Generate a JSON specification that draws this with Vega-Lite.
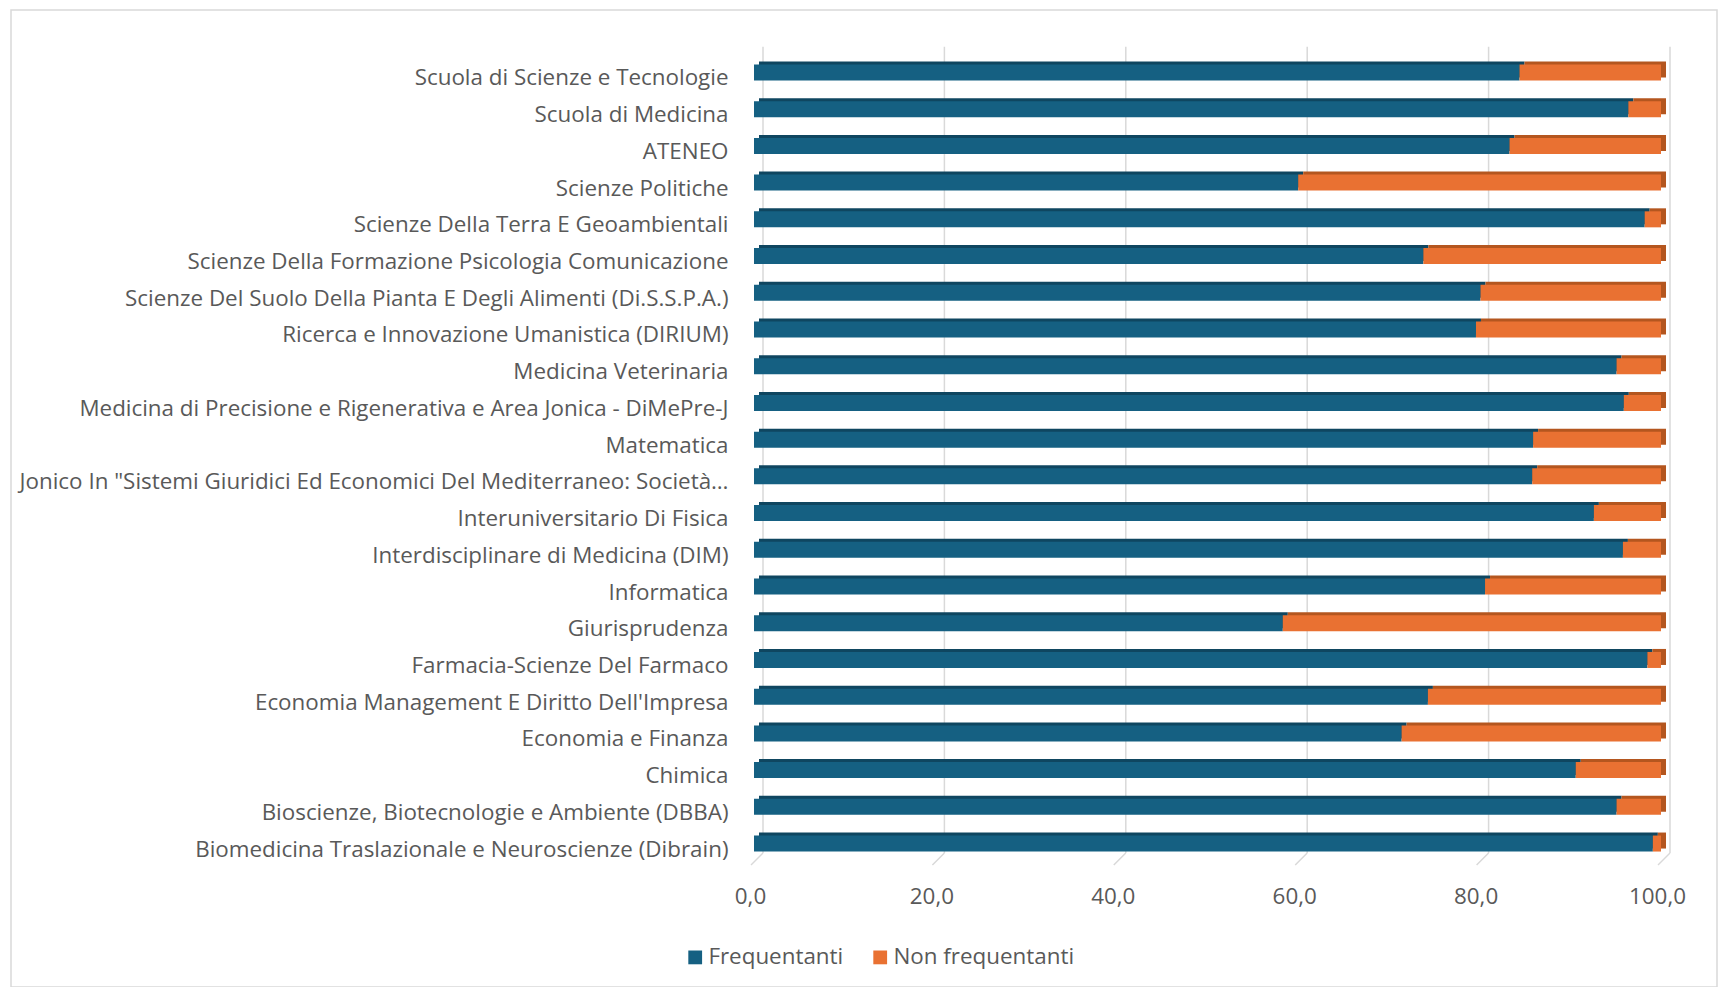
{
  "$schema": "https://vega.github.io/schema/vega-lite/v6.json",
  "width": 1706,
  "height": 977,
  "padding": {"left": 11, "top": 10, "right": 3, "bottom": 0},
  "autosize": {"type": "none"},
  "background": "white",
  "config": {
    "view": {"stroke": "#d9d9d9", "strokeWidth": 1.5},
    "font": "Open Sans"
  },
  "data": {
    "values": [
      {"dip": "Scuola di Scienze e Tecnologie", "serie": "Frequentanti", "valore": 84.4},
      {"dip": "Scuola di Scienze e Tecnologie", "serie": "Non frequentanti", "valore": 15.6},
      {"dip": "Scuola di Medicina", "serie": "Frequentanti", "valore": 96.4},
      {"dip": "Scuola di Medicina", "serie": "Non frequentanti", "valore": 3.6},
      {"dip": "ATENEO", "serie": "Frequentanti", "valore": 83.3},
      {"dip": "ATENEO", "serie": "Non frequentanti", "valore": 16.7},
      {"dip": "Scienze Politiche", "serie": "Frequentanti", "valore": 60.0},
      {"dip": "Scienze Politiche", "serie": "Non frequentanti", "valore": 40.0},
      {"dip": "Scienze Della Terra E Geoambientali", "serie": "Frequentanti", "valore": 98.2},
      {"dip": "Scienze Della Terra E Geoambientali", "serie": "Non frequentanti", "valore": 1.8},
      {"dip": "Scienze Della Formazione Psicologia Comunicazione", "serie": "Frequentanti", "valore": 73.8},
      {"dip": "Scienze Della Formazione Psicologia Comunicazione", "serie": "Non frequentanti", "valore": 26.2},
      {"dip": "Scienze Del Suolo Della Pianta E Degli Alimenti (Di.S.S.P.A.)", "serie": "Frequentanti", "valore": 80.1},
      {"dip": "Scienze Del Suolo Della Pianta E Degli Alimenti (Di.S.S.P.A.)", "serie": "Non frequentanti", "valore": 19.9},
      {"dip": "Ricerca e Innovazione Umanistica (DIRIUM)", "serie": "Frequentanti", "valore": 79.6},
      {"dip": "Ricerca e Innovazione Umanistica (DIRIUM)", "serie": "Non frequentanti", "valore": 20.4},
      {"dip": "Medicina Veterinaria", "serie": "Frequentanti", "valore": 95.1},
      {"dip": "Medicina Veterinaria", "serie": "Non frequentanti", "valore": 4.9},
      {"dip": "Medicina di Precisione e Rigenerativa e Area Jonica - DiMePre-J", "serie": "Frequentanti", "valore": 95.9},
      {"dip": "Medicina di Precisione e Rigenerativa e Area Jonica - DiMePre-J", "serie": "Non frequentanti", "valore": 4.1},
      {"dip": "Matematica", "serie": "Frequentanti", "valore": 85.9},
      {"dip": "Matematica", "serie": "Non frequentanti", "valore": 14.1},
      {"dip": "Jonico In \"Sistemi Giuridici Ed Economici Del Mediterraneo: Società, Ambiente, Culture\"", "serie": "Frequentanti", "valore": 85.8},
      {"dip": "Jonico In \"Sistemi Giuridici Ed Economici Del Mediterraneo: Società, Ambiente, Culture\"", "serie": "Non frequentanti", "valore": 14.2},
      {"dip": "Interuniversitario Di Fisica", "serie": "Frequentanti", "valore": 92.6},
      {"dip": "Interuniversitario Di Fisica", "serie": "Non frequentanti", "valore": 7.4},
      {"dip": "Interdisciplinare di Medicina (DIM)", "serie": "Frequentanti", "valore": 95.8},
      {"dip": "Interdisciplinare di Medicina (DIM)", "serie": "Non frequentanti", "valore": 4.2},
      {"dip": "Informatica", "serie": "Frequentanti", "valore": 80.6},
      {"dip": "Informatica", "serie": "Non frequentanti", "valore": 19.4},
      {"dip": "Giurisprudenza", "serie": "Frequentanti", "valore": 58.3},
      {"dip": "Giurisprudenza", "serie": "Non frequentanti", "valore": 41.7},
      {"dip": "Farmacia-Scienze Del Farmaco", "serie": "Frequentanti", "valore": 98.5},
      {"dip": "Farmacia-Scienze Del Farmaco", "serie": "Non frequentanti", "valore": 1.5},
      {"dip": "Economia Management E Diritto Dell'Impresa", "serie": "Frequentanti", "valore": 74.3},
      {"dip": "Economia Management E Diritto Dell'Impresa", "serie": "Non frequentanti", "valore": 25.7},
      {"dip": "Economia e Finanza", "serie": "Frequentanti", "valore": 71.4},
      {"dip": "Economia e Finanza", "serie": "Non frequentanti", "valore": 28.6},
      {"dip": "Chimica", "serie": "Frequentanti", "valore": 90.6},
      {"dip": "Chimica", "serie": "Non frequentanti", "valore": 9.4},
      {"dip": "Bioscienze, Biotecnologie e Ambiente (DBBA)", "serie": "Frequentanti", "valore": 95.1},
      {"dip": "Bioscienze, Biotecnologie e Ambiente (DBBA)", "serie": "Non frequentanti", "valore": 4.9},
      {"dip": "Biomedicina Traslazionale e Neuroscienze (Dibrain)", "serie": "Frequentanti", "valore": 99.1},
      {"dip": "Biomedicina Traslazionale e Neuroscienze (Dibrain)", "serie": "Non frequentanti", "valore": 0.9}
    ]
  },
  "layer": [
    {
      "data": {"values": [{"t": 0}, {"t": 20}, {"t": 40}, {"t": 60}, {"t": 80}, {"t": 100}]},
      "encoding": {
        "x": {
          "field": "t",
          "type": "quantitative",
          "scale": {"domain": [0, 100], "range": [752, 1659], "nice": false},
          "axis": {
            "orient": "bottom",
            "offset": -91,
            "title": null,
            "values": [0, 20, 40, 60, 80, 100],
            "labelExpr": "replace(format(datum.value, '.1f'), '.', ',')",
            "grid": false,
            "domain": false,
            "ticks": false,
            "tickSize": 0,
            "labelPadding": 0,
            "labelBaseline": "middle",
            "labelOffset": -13,
            "labelFlush": false,
            "labelFontSize": 22.4,
            "labelColor": "#595959"
          }
        },
        "y": {"datum": 0, "type": "quantitative", "scale": {"domain": [0, 1], "range": [36.7, 843]}, "axis": null},
        "y2": {"datum": 1}
      },
      "layer": [
        {"mark": {"type": "rule", "color": "#d9d9d9", "strokeWidth": 1.5}},
        {
          "mark": {"type": "rule", "color": "#d9d9d9", "strokeWidth": 1.5, "x2Offset": -12, "y2Offset": 12},
          "encoding": {
            "x2": {"field": "t"},
            "y": {"datum": 1, "type": "quantitative", "scale": {"domain": [0, 1], "range": [36.7, 843]}, "axis": null},
            "y2": {"datum": 1}
          }
        }
      ]
    },
    {
      "encoding": {
        "y": {
          "field": "dip",
          "type": "nominal",
          "sort": null,
          "scale": {"range": [42.6, 850.4], "paddingInner": 0.564, "paddingOuter": 0.282},
          "axis": {
            "orient": "left",
            "offset": -717,
            "title": null,
            "domain": false,
            "ticks": false,
            "tickSize": 0,
            "labelPadding": 0,
            "labelOffset": 7.5,
            "labelFontSize": 22.4,
            "labelColor": "#595959",
            "labelLimit": 712,
            "grid": false
          }
        },
        "x": {
          "field": "valore",
          "type": "quantitative",
          "stack": "zero",
          "scale": {"domain": [0, 100], "range": [752, 1659], "nice": false},
          "axis": {
            "orient": "bottom",
            "offset": -91,
            "title": null,
            "values": [0, 20, 40, 60, 80, 100],
            "labelExpr": "replace(format(datum.value, '.1f'), '.', ',')",
            "grid": false,
            "domain": false,
            "ticks": false,
            "tickSize": 0,
            "labelPadding": 0,
            "labelBaseline": "middle",
            "labelOffset": -13,
            "labelFlush": false,
            "labelFontSize": 22.4,
            "labelColor": "#595959"
          }
        }
      },
      "layer": [
        {
          "mark": {"type": "bar", "xOffset": -4, "x2Offset": -4, "yOffset": -1.5, "y2Offset": -1.5},
          "encoding": {
            "color": {
              "field": "serie",
              "type": "nominal",
              "scale": {"domain": ["Frequentanti", "Non frequentanti"], "range": ["#0f4660", "#b4561f"]},
              "legend": null
            }
          }
        },
        {
          "mark": {"type": "bar", "xOffset": -9, "x2Offset": -9, "yOffset": 1.5, "y2Offset": 1.5},
          "encoding": {
            "color": {
              "field": "serie",
              "type": "nominal",
              "scale": {"domain": ["Frequentanti", "Non frequentanti"], "range": ["#156082", "#e97132"]},
              "legend": {
                "orient": "none",
                "legendX": 673,
                "legendY": 936,
                "direction": "horizontal",
                "title": null,
                "symbolType": "square",
                "symbolSize": 190,
                "symbolStrokeWidth": 0,
                "labelFontSize": 22.4,
                "labelColor": "#595959",
                "labelOffset": 2,
                "labelLimit": 400,
                "columnPadding": 25
              }
            }
          }
        }
      ],
      "resolve": {"scale": {"color": "independent"}}
    }
  ],
  "resolve": {"scale": {"y": "independent"}}
}
